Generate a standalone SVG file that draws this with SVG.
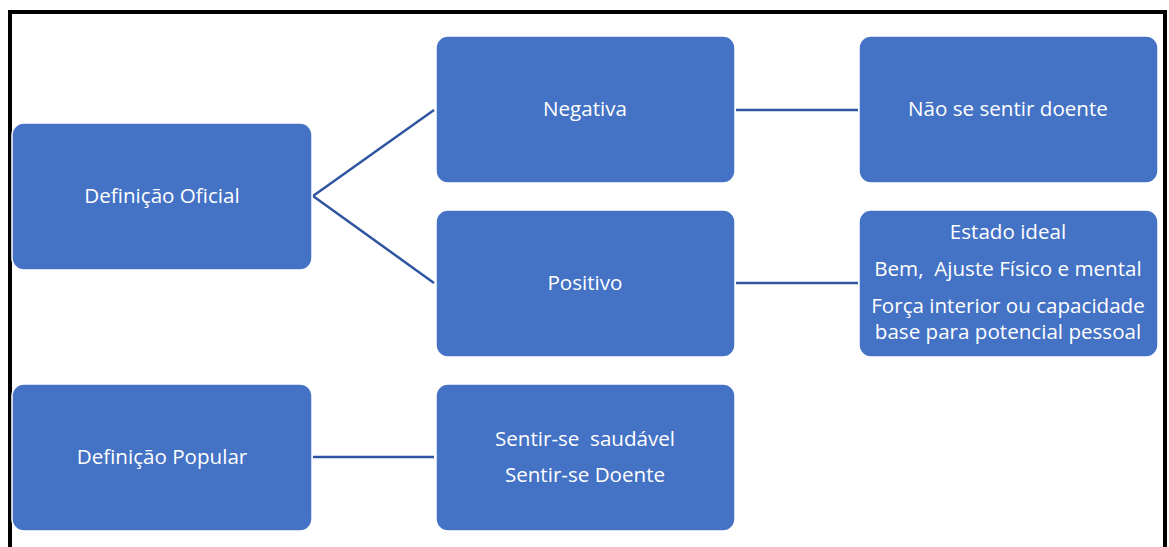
<svg xmlns="http://www.w3.org/2000/svg" width="1169" height="547" viewBox="0 0 1169 547">
<style>
.box{fill:#4472C4;stroke:#ffffff;stroke-width:1.5}
.t{font-family:"Open Sans","Noto Sans",sans-serif;font-size:20.6px;fill:#ffffff;text-anchor:middle}
.c{stroke:#2F55A0;stroke-width:2.5;fill:none}
</style>
<rect x="0" y="0" width="1169" height="547" fill="#ffffff"/>
<path d="M10 547 V12 H1165 V547" fill="none" stroke="#000000" stroke-width="4"/>
<g id="connectors">
<line class="c" x1="313" y1="196" x2="434" y2="110"/>
<line class="c" x1="313" y1="196" x2="434" y2="283"/>
<line class="c" x1="736" y1="110" x2="858" y2="110"/>
<line class="c" x1="736" y1="283" x2="858" y2="283"/>
<line class="c" x1="313" y1="457" x2="434" y2="457"/>
</g>
<g id="oficial"><rect class="box" x="12" y="123" width="300" height="147" rx="12"/><text class="t" x="162" y="203">Definição Oficial</text></g>
<g id="negativa"><rect class="box" x="436" y="36" width="299" height="147" rx="12"/><text class="t" x="585" y="116">Negativa</text></g>
<g id="nao"><rect class="box" x="859" y="36" width="299" height="147" rx="12"/><text class="t" x="1008" y="116">Não se sentir doente</text></g>
<g id="positivo"><rect class="box" x="436" y="210" width="299" height="147" rx="12"/><text class="t" x="585" y="290">Positivo</text></g>
<g id="estado"><rect class="box" x="859" y="210" width="299" height="147" rx="12"/>
<text class="t" x="1008" y="239">Estado ideal</text>
<text class="t" x="1008" y="276" xml:space="preserve">Bem,  Ajuste Físico e mental</text>
<text class="t" x="1008" y="313">Força interior ou capacidade</text>
<text class="t" x="1008" y="339">base para potencial pessoal</text></g>
<g id="popular"><rect class="box" x="12" y="384" width="300" height="147" rx="12"/><text class="t" x="162" y="464">Definição Popular</text></g>
<g id="sentir"><rect class="box" x="436" y="384" width="299" height="147" rx="12"/>
<text class="t" x="585" y="446" xml:space="preserve">Sentir-se  saudável</text>
<text class="t" x="585" y="482">Sentir-se Doente</text></g>
</svg>
